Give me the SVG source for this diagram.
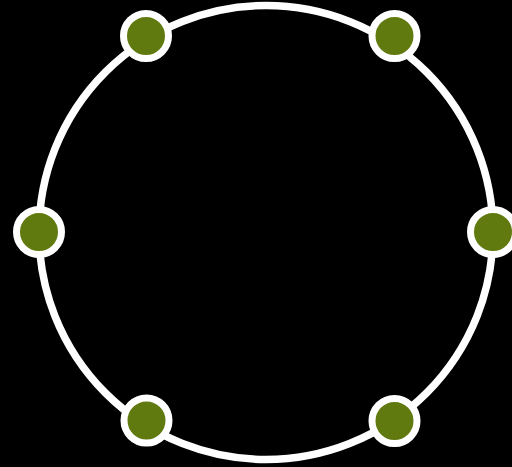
<svg xmlns="http://www.w3.org/2000/svg" width="512" height="467" viewBox="0 0 512 467">
<style>
.node{fill:#617a0f;stroke:#fff;stroke-width:7}
.ring{fill:none;stroke:#fff;stroke-width:7.5}
</style>
<rect width="512" height="467" fill="#000"/>
<g id="connectors">
<circle class="ring" cx="266" cy="232.5" r="227"/>
</g>
<g id="n1"><circle class="node" cx="146" cy="36" r="22.5"/></g>
<g id="n2"><circle class="node" cx="394.5" cy="36" r="22.5"/></g>
<g id="n3"><circle class="node" cx="39" cy="232" r="22.5"/></g>
<g id="n4"><circle class="node" cx="493" cy="232" r="22.5"/></g>
<g id="n5"><circle class="node" cx="146.5" cy="420.5" r="22.5"/></g>
<g id="n6"><circle class="node" cx="394.5" cy="421" r="22.5"/></g>
</svg>
